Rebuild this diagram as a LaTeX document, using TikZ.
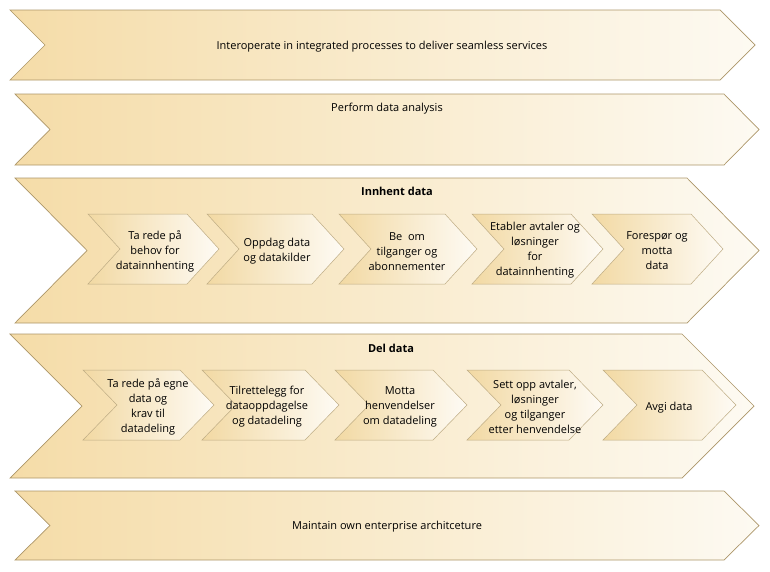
\documentclass[tikz,border=0pt]{standalone}
\usepackage{fontspec}
\setmainfont{Open Sans}
\definecolor{bandL}{RGB}{245,220,168}
\definecolor{bandR}{RGB}{253,250,242}
\definecolor{chevL}{RGB}{242,217,163}
\definecolor{chevR}{RGB}{254,251,245}
\definecolor{bandline}{RGB}{172,150,104}
\definecolor{chevline}{RGB}{190,172,132}
\newcommand\chevshape[6]{% style, L, T, R, B, depth
  \path[#1] (#2,#3) -- (#4,#3) -- ({#4+#6},{(#3+#5)/2}) -- (#4,#5) -- (#2,#5) -- ({#2+#6},{(#3+#5)/2}) -- cycle;}
\begin{document}
\begin{tikzpicture}[x=1pt,y=-1pt,
  band/.style={draw=bandline, line width=0.7pt, left color=bandL, right color=bandR},
  chev/.style={draw=chevline, line width=0.5pt, left color=chevL, right color=chevR},
  lbl/.style={font=\fontsize{11}{15}\selectfont, align=center, inner sep=0pt, text=black},
  ttl/.style={lbl, font=\fontsize{11}{15}\selectfont\bfseries}]
\useasboundingbox (0,0) rectangle (770,571);
% outer bands
\chevshape{band}{10}{10}{720}{80}{35}
\chevshape{band}{15}{94}{724}{165}{35}
\chevshape{band}{15}{178}{687}{323}{72}
\chevshape{band}{10}{334}{682}{478}{72}
\chevshape{band}{15}{491}{724}{560}{35}
% inner chevrons, Innhent data
\chevshape{chev}{88}{214}{187}{284}{32}
\chevshape{chev}{207}{214}{312}{284}{32}
\chevshape{chev}{339}{214}{445}{284}{32}
\chevshape{chev}{472}{214}{571}{284}{32}
\chevshape{chev}{592}{214}{691}{284}{32}
% inner chevrons, Del data
\chevshape{chev}{83}{370}{180}{440}{34}
\chevshape{chev}{202}{370}{305}{440}{34}
\chevshape{chev}{335}{370}{433}{440}{34}
\chevshape{chev}{467}{370}{569}{440}{34}
\chevshape{chev}{603}{370}{702}{440}{34}
% texts
\node[lbl] (t1) at (382,46.5) {Interoperate in integrated processes to deliver seamless services};
\node[lbl] (t2) at (387,108.5) {Perform data analysis};
\node[ttl] (t3) at (397,191.5) {Innhent data};
\node[ttl] (t4) at (391,348.5) {Del data};
\node[lbl] (t5) at (387,526.5) {Maintain own enterprise architceture};
\node[lbl] (a1) at (155,251.5) {Ta rede på\\behov for\\datainnhenting};
\node[lbl] (a2) at (277,251.5) {Oppdag data\\og datakilder};
\node[lbl] (a3) at (407,251.5) {Be\ \ om\\tilganger og\\abonnementer};
\node[lbl] (a4) at (535,250.5) {Etabler avtaler og\\løsninger\\for\\datainnhenting};
\node[lbl] (a5) at (657,250.5) {Forespør og\\motta\\data};
\node[lbl] (b1) at (148,406.5) {Ta rede på egne\\data og\\krav til\\datadeling};
\node[lbl] (b2) at (267,406.5) {Tilrettelegg for\\dataoppdagelse\\og datadeling};
\node[lbl] (b3) at (400,406.5) {Motta\\henvendelser\\om datadeling};
\node[lbl] (b4) at (535,406.5) {Sett opp avtaler,\\løsninger\\og tilganger\\etter henvendelse};
\node[lbl] (b5) at (669,407.5) {Avgi data};
\end{tikzpicture}
\end{document}
